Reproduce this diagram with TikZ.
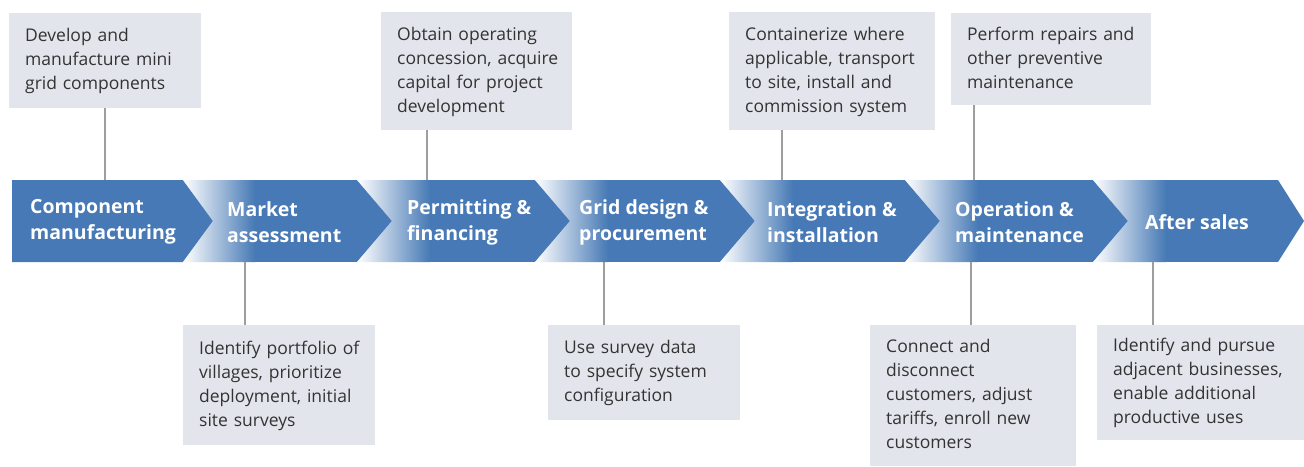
\documentclass[tikz,border=0pt]{standalone}
\usepackage{fontspec}
\setmainfont{Open Sans}
\usepackage{tikz}
\definecolor{StageBlue}{HTML}{4679B5}
\definecolor{NoteFill}{HTML}{E2E5EC}
\definecolor{NoteLine}{HTML}{9E9E9E}
\definecolor{NoteText}{HTML}{333333}
\newcommand{\notelines}[1]{\begin{tabular}{@{}l@{}}#1\end{tabular}}
\tikzset{
  note/.style={fill=NoteFill,anchor=north west,inner xsep=16pt,inner ysep=0pt,
    align=left,text=NoteText,font=\fontsize{17.5}{24}\selectfont},
  stage/.style={anchor=west,align=left,inner sep=0pt,text=white,
    font=\fontsize{19.5}{26}\selectfont\bfseries},
  conn/.style={draw=NoteLine,line width=1.5pt}
}

\begin{document}
\begin{tikzpicture}[x=1pt,y=-1pt]
  \useasboundingbox (0,0) rectangle (1304,466);
  % chevron band
  \fill[StageBlue] (12,180) -- (183,180) -- (213,221) -- (183,262) -- (12,262) -- cycle;
  \begin{scope}
    \clip (183,180) -- (357,180) -- (392,221) -- (357,262) -- (183,262) -- (213,221) -- cycle;
    \fill[StageBlue] (183,180) rectangle (392,262);
    \shade[left color=white,right color=StageBlue] (183,180) rectangle (255,262);
  \end{scope}
  \begin{scope}
    \clip (357,180) -- (535,180) -- (570,221) -- (535,262) -- (357,262) -- (392,221) -- cycle;
    \fill[StageBlue] (357,180) rectangle (570,262);
    \shade[left color=white,right color=StageBlue] (357,180) rectangle (430,262);
  \end{scope}
  \begin{scope}
    \clip (535,180) -- (720,180) -- (755,221) -- (720,262) -- (535,262) -- (570,221) -- cycle;
    \fill[StageBlue] (535,180) rectangle (755,262);
    \shade[left color=white,right color=StageBlue] (535,180) rectangle (608,262);
  \end{scope}
  \begin{scope}
    \clip (720,180) -- (905,180) -- (940,221) -- (905,262) -- (720,262) -- (755,221) -- cycle;
    \fill[StageBlue] (720,180) rectangle (940,262);
    \shade[left color=white,right color=StageBlue] (720,180) rectangle (793,262);
  \end{scope}
  \begin{scope}
    \clip (905,180) -- (1093,180) -- (1128,221) -- (1093,262) -- (905,262) -- (940,221) -- cycle;
    \fill[StageBlue] (905,180) rectangle (1128,262);
    \shade[left color=white,right color=StageBlue] (905,180) rectangle (978,262);
  \end{scope}
  \begin{scope}
    \clip (1093,180) -- (1278,180) -- (1304,221) -- (1278,262) -- (1093,262) -- (1128,221) -- cycle;
    \fill[StageBlue] (1093,180) rectangle (1304,262);
    \shade[left color=white,right color=StageBlue] (1093,180) rectangle (1166,262);
  \end{scope}

  % stage labels
  \node[stage] (stage1) at (30,222) {Component\\manufacturing};
  \node[stage] (stage2) at (227,222) {Market\\assessment};
  \node[stage] (stage3) at (407,222) {Permitting \&\\financing};
  \node[stage] (stage4) at (579,222) {Grid design \&\\procurement};
  \node[stage] (stage5) at (767,222) {Integration \&\\installation};
  \node[stage] (stage6) at (955,222) {Operation \&\\maintenance};
  \node[stage] (stage7) at (1145,222) {After sales};

  % notes above the band
  \node[note,text width=160pt,minimum height=95pt] (note1) at (9,13)
    {\notelines{Develop and\\manufacture mini\\grid components}};
  \node[note,text width=159pt,minimum height=118pt] (note2) at (381,12)
    {\notelines{Obtain operating\\concession, acquire\\capital for project\\development}};
  \node[note,text width=174pt,minimum height=118pt] (note3) at (729,12)
    {\notelines{Containerize where\\applicable, transport\\to site, install and\\commission system}};
  \node[note,text width=168pt,minimum height=92pt] (note4) at (951,13)
    {\notelines{Perform repairs and\\other preventive\\maintenance}};

  % notes below the band
  \node[note,text width=160pt,minimum height=120pt] (note5) at (183,325)
    {\notelines{Identify portfolio of\\villages, prioritize\\deployment, initial\\site surveys}};
  \node[note,text width=160pt,minimum height=95pt] (note6) at (548,325)
    {\notelines{Use survey data\\to specify system\\configuration}};
  \node[note,text width=174pt,minimum height=141pt] (note7) at (870,325)
    {\notelines{Connect and\\disconnect\\customers, adjust\\tariffs, enroll new\\customers}};
  \node[note,text width=175pt,minimum height=115pt] (note8) at (1097,325)
    {\notelines{Identify and pursue\\adjacent businesses,\\enable additional\\productive uses}};

  % connectors
  \coordinate (top1) at (105,180);
  \coordinate (top2) at (427,180);
  \coordinate (top3) at (782,180);
  \coordinate (top4) at (974,180);
  \coordinate (bot5) at (245,262);
  \coordinate (bot6) at (604,262);
  \coordinate (bot7) at (971,262);
  \coordinate (bot8) at (1153,262);
  \draw[conn] (note1.south -| top1) -- (top1);
  \draw[conn] (note2.south -| top2) -- (top2);
  \draw[conn] (note3.south -| top3) -- (top3);
  \draw[conn] (note4.south -| top4) -- (top4);
  \draw[conn] (bot5) -- (note5.north -| bot5);
  \draw[conn] (bot6) -- (note6.north -| bot6);
  \draw[conn] (bot7) -- (note7.north -| bot7);
  \draw[conn] (bot8) -- (note8.north -| bot8);
\end{tikzpicture}
\end{document}
